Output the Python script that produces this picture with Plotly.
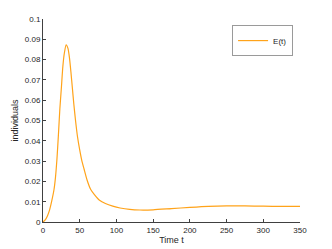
import plotly.graph_objects as go

t_vals = [0, 3, 6, 9, 12, 15, 17, 19, 21, 23, 25, 27, 29, 31.5, 34, 36, 38, 40, 42, 44,
          47, 50, 53, 56, 60, 65, 70, 77, 85, 95, 105, 118, 132, 150, 175, 200, 225,
          250, 275, 300, 325, 350]
e_vals = [0, 0.001, 0.003, 0.006, 0.0105, 0.016, 0.022, 0.031, 0.043, 0.056, 0.066,
          0.0765, 0.083, 0.0873, 0.0855, 0.081, 0.074, 0.066, 0.058, 0.051,
          0.042, 0.0355, 0.030, 0.026, 0.0207, 0.016, 0.0135, 0.0107, 0.0091, 0.0078,
          0.0069, 0.0062, 0.0059, 0.0060, 0.0066, 0.0072, 0.0077,
          0.0079, 0.0079, 0.0078, 0.0077, 0.0077]
x_ticks = [0, 50, 100, 150, 200, 250, 300, 350]
y_ticks = [0, 0.01, 0.02, 0.03, 0.04, 0.05, 0.06, 0.07, 0.08, 0.09, 0.1]
y_labels = ["0", "0.01", "0.02", "0.03", "0.04", "0.05", "0.06", "0.07", "0.08", "0.09", "0.1"]

fig = go.Figure()
fig.add_trace(go.Scatter(x=t_vals, y=e_vals, mode="lines", name="E(t)",
                         line=dict(color="#FFA31A", width=1.2, shape="spline", smoothing=0.6)))

axis_color = "#404040"
fam = "Liberation Sans, Arial, sans-serif"
fig.update_layout(
    width=324, height=241,
    margin=dict(l=35, r=32, t=11, b=27, autoexpand=False),
    paper_bgcolor="white", plot_bgcolor="white",
    font=dict(family=fam, size=8, color="#262626"),
    showlegend=True,
    legend=dict(x=0.973, y=0.97, xanchor="right", yanchor="top",
                bordercolor="#9a9a9a", borderwidth=1, bgcolor="white",
                font=dict(family=fam, size=8, color="#262626"),
                itemwidth=30, tracegroupgap=0),
)
fig.update_xaxes(range=[0, 350], tickvals=x_ticks, ticks="inside", ticklen=3,
                 showline=True, linecolor=axis_color, linewidth=1, tickcolor=axis_color,
                 showgrid=False, zeroline=False, mirror=False,
                 title=dict(text="Time t", font=dict(size=9, color="#262626"), standoff=3))
fig.update_yaxes(range=[0, 0.1], tickvals=y_ticks, ticktext=y_labels, ticks="inside", ticklen=3,
                 showline=True, linecolor=axis_color, linewidth=1, tickcolor=axis_color,
                 showgrid=False, zeroline=False, mirror=False,
                 title=dict(text="individuals", font=dict(size=9, color="#262626"), standoff=4))

fig.write_html("out.html")
